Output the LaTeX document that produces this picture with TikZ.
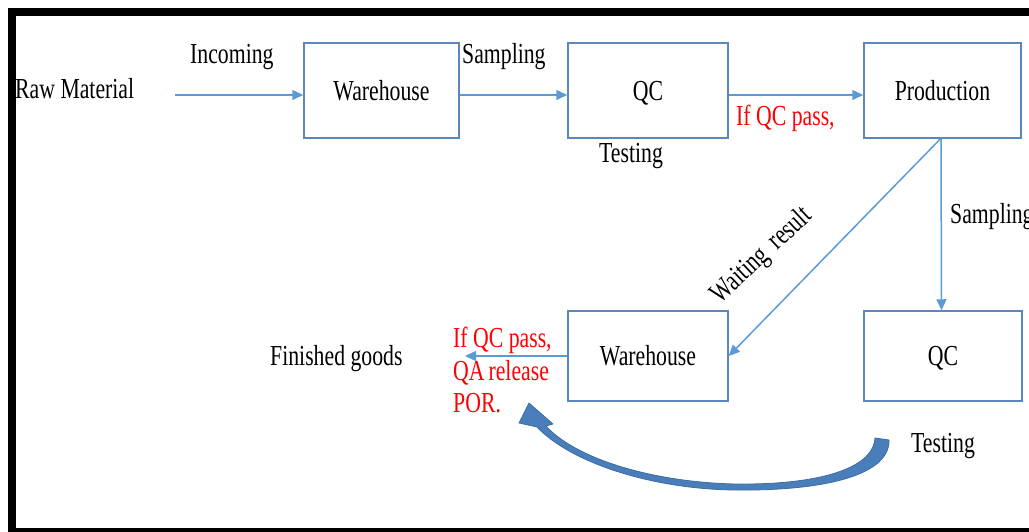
\documentclass[tikz,border=0pt]{standalone}
\usepackage{fontspec}
\setmainfont{Liberation Serif}[FakeStretch=0.75]
\usetikzlibrary{arrows.meta}
\definecolor{boxblue}{HTML}{5B87BF}
\definecolor{arrblue}{HTML}{5B9BD5}
\definecolor{bigblue}{HTML}{4A7EBB}
\definecolor{bigedge}{HTML}{3C6DA3}
\definecolor{redtxt}{HTML}{FF0000}
\begin{document}
\begin{tikzpicture}[x=1pt,y=-1pt, font=\fontsize{29}{32.5}\selectfont,
  box/.style={draw=boxblue,line width=1.5pt,inner sep=0pt,text height=19pt,text depth=0pt},
  lbl/.style={inner sep=0pt,anchor=base west},
  redlbl/.style={lbl,text=redtxt},
  arr/.style={draw=arrblue,line width=1.5pt,-{Triangle[length=11pt,width=10pt]}},
  bigarrow/.style={fill=bigblue,draw=bigedge,line width=0.8pt,line join=round}]
\useasboundingbox (0,0) rectangle (1029,531);
\clip (0,0) rectangle (1029,531);
\draw[line width=8pt] (12,12) rectangle (1036,532);
% boxes
\node[box,minimum width=155pt,minimum height=95pt] (w1) at (381.5,90.5) {Warehouse};
\node[box,minimum width=160pt,minimum height=95pt] (qc1) at (648,90.5) {QC};
\node[box,minimum width=157pt,minimum height=95pt] (prod) at (942.5,90.5) {Production};
\node[box,minimum width=160pt,minimum height=90pt] (w2) at (648,356) {Warehouse};
\node[box,minimum width=158pt,minimum height=90pt] (qc2) at (943,356) {QC};
% labels
\node[lbl] (raw) at (15,98) {Raw Material};
\node[lbl] (incoming) at (190,63) {Incoming};
\node[lbl] (samp1) at (462,63) {Sampling};
\node[lbl] (test1) at (599,162) {Testing};
\node[redlbl] (pass1) at (736,125) {If QC pass,};
\node[lbl] (samp2) at (950,223) {Sampling};
\node[inner sep=0pt,anchor=base,rotate=43] (wait) at (767,261) {Waiting\hspace{10pt}result};
\node[inner sep=0pt,anchor=north west,align=left,text=redtxt] (pass2) at (453,327) {If QC pass,\\QA\hspace{4pt}release\\POR.};
\node[lbl] (fg) at (270,365) {Finished goods};
\node[lbl] (test2) at (911,452) {Testing};
% connectors
\coordinate (rawstart) at (175,95);
\coordinate (fgtip) at (465,356);
\draw[arr] (rawstart) -- (rawstart -| w1.west);
\draw[arr] ([yshift=-4.5pt]w1.east) -- ([yshift=-4.5pt]qc1.west);
\draw[arr] ([yshift=-4.5pt]qc1.east) -- ([yshift=-4.5pt]prod.west);
\draw[arr] ([xshift=-1.5pt]prod.south) -- ([xshift=-1.5pt]qc2.north);
\draw[arr] ([xshift=-2pt]prod.south) -- (w2.east);
\draw[arr] (w2.west) -- (fgtip);
% big curved arrow
\filldraw[bigarrow] (875,438) -- (889,440)
  .. controls (890,478) and (815,491) .. (735,490)
  .. controls (650,489) and (570,462) .. (537,427)
  -- (519,423) -- (529,403) -- (553,424) -- (546,426)
  .. controls (575,458) and (650,482) .. (735,484)
  .. controls (815,485) and (873,470) .. (875,438) -- cycle;
\end{tikzpicture}
\end{document}
